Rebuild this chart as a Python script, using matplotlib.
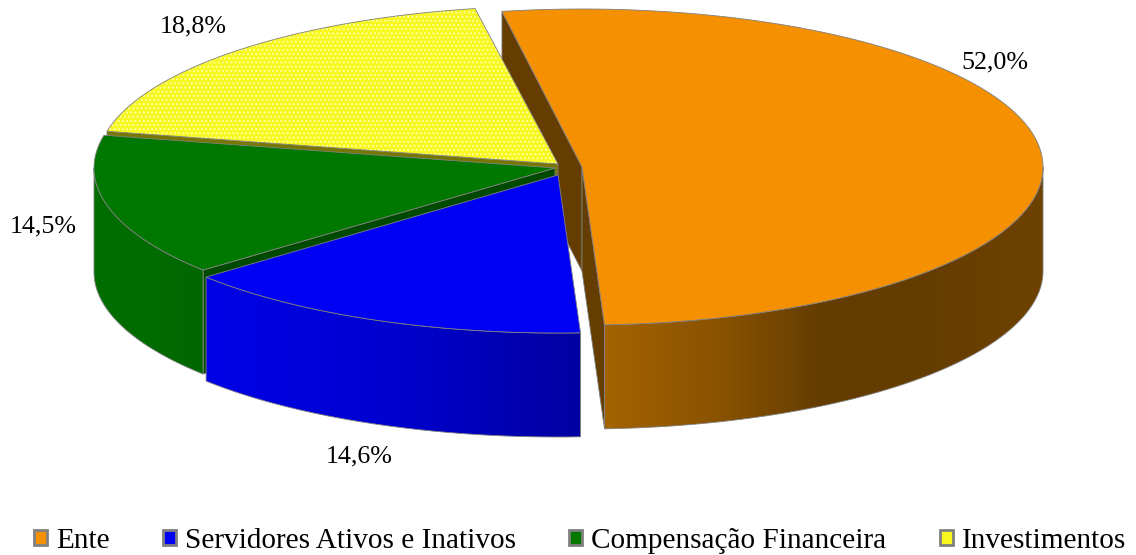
import numpy as np
import matplotlib
matplotlib.use('Agg')
import matplotlib.pyplot as plt
from matplotlib.colors import LinearSegmentedColormap
from matplotlib.patches import Patch, Polygon

plt.rcParams['font.family'] = ['Liberation Serif', 'DejaVu Serif']

categories = ['Ente', 'Servidores Ativos e Inativos', 'Compensação Financeira', 'Investimentos']
shares = [52.0, 14.6, 14.5, 18.8]
labels = ['52,0%', '14,6%', '14,5%', '18,8%']

top_colors = ['#f59000', '#0000f5', '#007800', '#f7f71e']
side_colors = ['#663d00', '#000090', '#004a00', '#777700']
wall_ramps = [['#a46300', '#8a5300', '#643c00', '#663d00', '#6e4200'],
              ['#0000e6', '#0000d0', '#0000a0'],
              ['#006e00', '#006c00', '#006600'],
              ['#777700', '#777700']]
centers = [(582, 167), (558, 175), (555, 168), (558, 164)]
label_pos = [(995, 62), (359, 456), (43, 226), (193, 26)]

rx, ry, depth = 461, 158, 104
edge = '#808080'
start_angle = -10

fig = plt.figure(figsize=(11.36, 5.55), dpi=100)
ax = fig.add_axes([0, 0, 1, 1])


def rim(i, a, b):
    # point on the ellipse, angle counted clockwise from the top
    t = np.radians(np.linspace(a, b, 200))
    return np.column_stack([centers[i][0] + rx * np.sin(t), centers[i][1] - ry * np.cos(t)])


def radial_wall(i, angle, z):
    c = np.array(centers[i], dtype=float)
    p = rim(i, angle, angle)[0]
    pts = [c, p, p + [0, depth], c + [0, depth]]
    ax.add_patch(Polygon(pts, closed=True, fc=side_colors[i], ec=edge, lw=0.6, zorder=z))


def outer_wall(i, a, b, z):
    # only the front half of the rim can be seen
    a, b = max(a, 90), min(b, 270)
    arc = rim(i, a, b)
    pts = np.vstack([arc, (arc + [0, depth])[::-1]])
    poly = Polygon(pts, closed=True, fc='none', ec=edge, lw=0.6, zorder=z + 0.1)
    ax.add_patch(poly)
    cmap = LinearSegmentedColormap.from_list('wall%d' % i, wall_ramps[i])
    im = ax.imshow(np.linspace(0, 1, 256).reshape(1, -1), cmap=cmap, aspect='auto',
                   extent=[pts[:, 0].min(), pts[:, 0].max(), pts[:, 1].max(), pts[:, 1].min()],
                   zorder=z)
    im.set_clip_path(poly)


def top_face(i, a, b, z):
    pts = np.vstack([[centers[i]], rim(i, a, b)])
    if i == 3:
        # dotted fill of the Investimentos slice
        ax.add_patch(Polygon(pts, closed=True, fc=top_colors[i], ec='#ffffa0', lw=0, hatch='....', zorder=z))
        ax.add_patch(Polygon(pts, closed=True, fc='none', ec=edge, lw=0.6, zorder=z + 0.1))
    else:
        ax.add_patch(Polygon(pts, closed=True, fc=top_colors[i], ec=edge, lw=0.6, zorder=z))


edges = start_angle + np.concatenate([[0], np.cumsum(shares)]) * 3.6
a = edges[:-1]
b = edges[1:]

# Ente first, then the other slices painted over its inner walls
radial_wall(0, a[0], 1)
radial_wall(0, b[0], 2)
outer_wall(0, a[0], b[0], 3)
top_face(0, a[0], b[0], 4)

radial_wall(3, a[3], 5)
top_face(3, a[3], b[3], 6)

radial_wall(2, a[2], 7)
outer_wall(2, a[2], b[2], 8)
top_face(2, a[2], b[2], 9)

outer_wall(1, a[1], b[1], 10)
top_face(1, a[1], b[1], 11)

for (x, y), txt in zip(label_pos, labels):
    ax.text(x, y, txt, ha='center', va='center', fontsize=18.7, color='black', zorder=20)

handles = [Patch(fc=c, ec=edge, lw=2) for c in top_colors]
ax.legend(handles, categories, ncol=4, frameon=False, fontsize=21.1,
          loc='center left', bbox_to_anchor=(34, 541), bbox_transform=ax.transData,
          borderpad=0, borderaxespad=0, handlelength=0.45, handleheight=0.45,
          handletextpad=0.3, columnspacing=1.82)

ax.set_xlim(0, 1136)
ax.set_ylim(555, 0)
ax.axis('off')

fig.savefig('out.png', dpi=100, facecolor='white')
